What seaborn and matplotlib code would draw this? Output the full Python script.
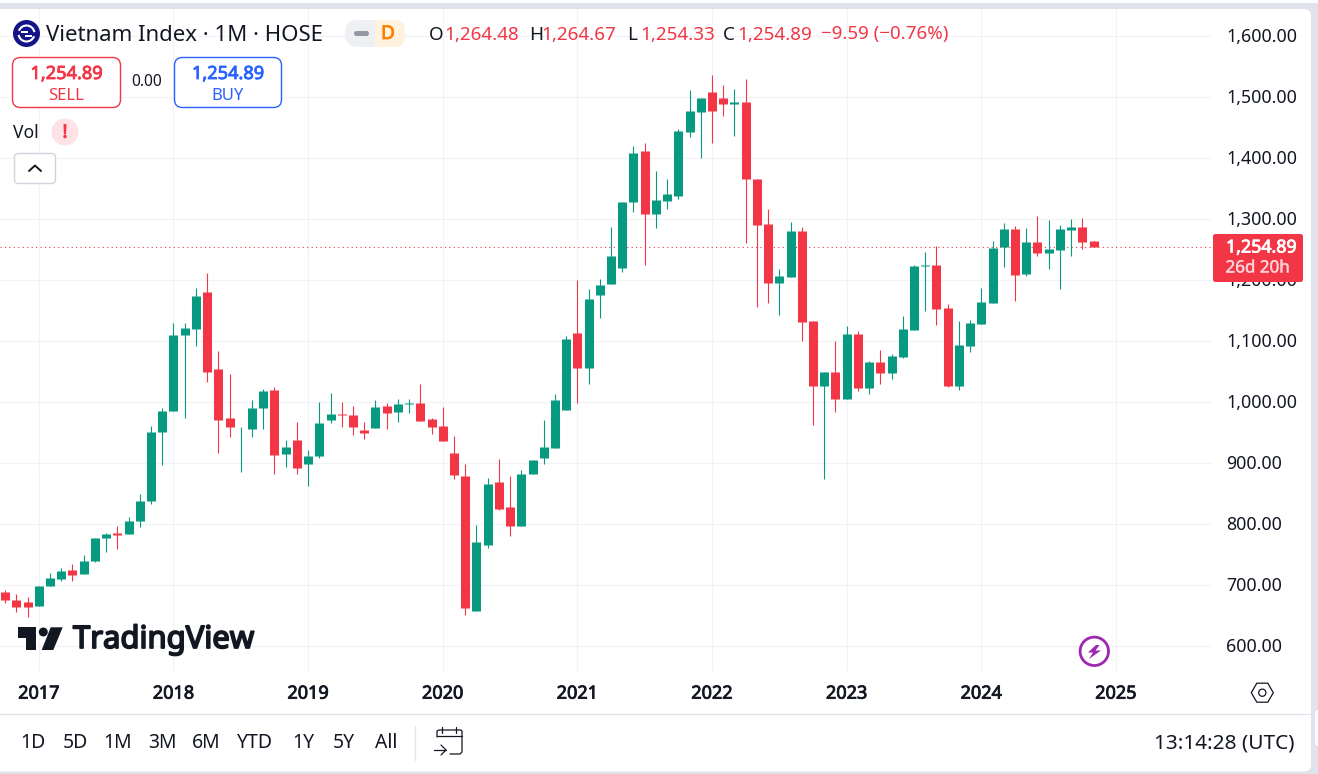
import numpy as np
import pandas as pd
import seaborn as sns
import matplotlib
matplotlib.use("Agg")
import matplotlib.pyplot as plt
import matplotlib.patheffects as pe
from matplotlib.transforms import ScaledTranslation
from matplotlib.patches import FancyBboxPatch, Circle, Polygon, Rectangle, Arc

# ---------- data (monthly candles, Oct 2016 .. Nov 2024) ----------
opens = [689.1,676,672.7,666.1,698.9,710.4,725.1,718.6,739.9,777.6,785.8,784.2,805.5,838.3,951.4,985.8,
         1110.4,1120.2,1180.9,1054.6,974.3,957.4,956.3,990.7,1020.2,915.3,938.3,898.9,912,971,980.9,979.2,
         954.6,957.9,994,984.2,997.3,998.9,972.7,961.2,916.9,879.2,657.9,766.1,869.4,828.4,797.3,882.5,
         908.7,925.1,987.4,1113.7,1056.3,1176.5,1194.5,1220.8,1329,1412.6,1309.3,1330.6,1338.8,1443.7,1476.5,
         1509.3,1499.5,1489.6,1492.9,1366.7,1292.9,1196.2,1206,1281.4,1133.3,1026.8,1049.7,1005.5,1112,1023.5,
         1066.1,1048.1,1074.3,1118.6,1223.5,1225.1,1154.6,1026.8,1092.3,1128.4,1162.8,1254.6,1284.2,1210.4,
         1262.8,1244.8,1249.7,1282.5,1287.4,1264.48]
closes = [676,664.5,664.5,698.9,712,723.5,716.9,739.9,777.6,784.2,782.5,805.5,838.3,951.4,985.8,1110.4,
          1121.9,1174.3,1049.7,971,959.6,958.5,990.7,1018.6,913.7,926.8,892.3,912,966.1,980.9,979.2,959.6,
          949.7,992.3,982.5,997.3,998.9,969.4,959.6,936.6,880.9,662.8,771,866.1,825.1,797.3,882.5,905.5,
          926.8,1003.8,1103.8,1056.3,1169.4,1192.9,1240.4,1329,1409.3,1309.3,1332.2,1342,1445.4,1478.1,1499.5,
          1478.1,1489.6,1492.9,1366.7,1291.3,1196.2,1207.7,1281.4,1132.2,1026.8,1049.7,1005.5,1112,1023.5,1066.1,
          1048.1,1076,1120.2,1223.5,1225.1,1153,1026.8,1094,1130,1164.5,1253,1284.2,1208.7,1262.8,
          1244.8,1251.4,1284.2,1287.4,1262.8,1254.89]
highs = [692.3,685.8,680.9,698.9,720.2,728.4,735,749.7,777.6,785.8,797.3,812,849.7,961.2,990.7,1130,
         1130,1187.4,1212,1084.2,1046.4,959.6,1003.8,1021.9,1025.1,938.3,967.8,921.9,1000.5,1015.3,1000.5,994,
         967.8,1003.8,998.9,1005.5,1005.5,1030,974.3,992.3,944.8,898.9,798.9,876,907.1,879.2,889,905.5,
         971,1013.7,1108.7,1200.5,1185.8,1202.7,1288,1329,1420.8,1425.7,1379.8,1366.7,1448.6,1512.6,1499.5,
         1537.2,1520.8,1514.2,1530.6,1366.7,1317.5,1219.1,1296.2,1288,1133.3,1049.7,1100.5,1125.1,1116.9,1067.8,
         1085.8,1079.2,1141.5,1225.1,1246.4,1256.3,1161.2,1133.3,1135,1187.4,1264.5,1294,1289.1,1285.8,
         1305.5,1298.9,1290.7,1300.5,1302.2,1264.67]
lows = [671.6,656.3,648.1,666.1,698.9,707.1,707.1,718.6,738.3,754.6,759.6,784.2,795.6,833.3,897.3,985.8,
        974.3,1092.3,1033.3,916.9,943.2,885.8,943.2,956.3,882.5,894,882.5,862.8,908.7,966.1,959.6,946.4,
        939.9,957.9,956.3,967.8,982.5,969.4,948.1,936.6,874.3,651.4,657.9,761.2,823.5,780.9,797.3,882.5,
        898.9,925.1,987.4,998.9,1030,1138.8,1194.5,1214.2,1312.6,1225.7,1286.3,1317.5,1333.9,1435.5,1401.1,
        1425.7,1469.9,1437.2,1261.7,1156.8,1163.4,1143.7,1206,1101.1,962.8,874.3,984.2,1005.5,1018.6,1013.7,
        1030.1,1038.3,1072.7,1118.6,1149.7,1126.8,1025.1,1020.2,1082.5,1128.4,1162.8,1221.9,1166.1,1207.1,
        1239.9,1218.6,1185.8,1239.9,1251.4,1254.33]
year_labels = ["2017","2018","2019","2020","2021","2022","2023","2024","2025"]
price_ticks = [600,700,800,900,1000,1100,1200,1300,1400,1500,1600]
last_price = 1254.89
range_buttons = ["1D","5D","1M","3M","6M","YTD","1Y","5Y","All"]

GREEN, RED, BLUE = "#089981", "#f23645", "#2962ff"
INK, FRAME, GRID = "#131722", "#e0e3eb", "#f2f3f6"
FONT = "Noto Sans"

W, H = 1318, 774
sns.set_theme(style="white", rc={"axes.grid": False})
plt.rcParams["font.family"] = [FONT, "DejaVu Sans"]
fig = plt.figure(figsize=(W/100, H/100), dpi=100, facecolor="white")

def rect(x0, y0, x1, y1):
    return [x0/W, 1-y1/H, (x1-x0)/W, (y1-y0)/H]

def overlay(z):
    a = fig.add_axes([0, 0, 1, 1], zorder=z)
    a.set_xlim(0, W); a.set_ylim(H, 0); a.axis("off"); a.patch.set_alpha(0)
    return a

def embolden(t, color, amount=0.55):
    t.set_path_effects([pe.withStroke(linewidth=amount, foreground=color)])
    return t

# ---------- frame ----------
bg = overlay(0)
bg.add_patch(Rectangle((0, 3), W, H, fc=FRAME, ec="none"))
bg.add_patch(FancyBboxPatch((-20, 9), 1331, 762.5, boxstyle="round,pad=0,rounding_size=7", fc="white", ec="none"))
bg.add_patch(FancyBboxPatch((1315, 710), 10, 36, boxstyle="round,pad=0,rounding_size=3", fc="white", ec="none"))

# ---------- candles ----------
ax = fig.add_axes(rect(0, 9, 1212, 671), zorder=1)
ax.patch.set_alpha(0)
n = len(opens)
month = np.arange(n)
df = pd.DataFrame({"month": month, "open": opens, "close": closes, "high": highs, "low": lows})
df["dir"] = np.where(df["close"] >= df["open"], "up", "down")
wicks = df.melt(id_vars=["month", "dir"], value_vars=["high", "low"], value_name="price")
bodies = df.melt(id_vars=["month", "dir"], value_vars=["open", "close"], value_name="price")
pal = {"up": GREEN, "down": RED}
sns.lineplot(data=wicks, x="month", y="price", hue="dir", units="month", estimator=None, palette=pal,
             linewidth=0.8, legend=False, ax=ax, sort=False, zorder=3, solid_capstyle="butt")
sns.lineplot(data=bodies, x="month", y="price", hue="dir", units="month", estimator=None, palette=pal,
             linewidth=6.5, legend=False, ax=ax, sort=False, zorder=3, solid_capstyle="butt")

ax.set_xlim(-0.46, 107.56)
ax.set_ylim(559.5, 1644.8)
year_pos = [3 + 12*i for i in range(len(year_labels))]
ax.set_xticks(year_pos, year_labels)
ax.set_yticks(price_ticks, [f"{p:,.2f}" for p in price_ticks])
ax.yaxis.tick_right()
ax.grid(True, color=GRID, linewidth=0.85)
ax.set_axisbelow(True)
ax.set_xlabel(""); ax.set_ylabel("")
ax.tick_params(axis="y", length=0, pad=10.3, labelsize=12.8, labelcolor=INK)
ax.tick_params(axis="x", length=0, pad=9.8, labelsize=13.0, labelcolor=INK)
for t in ax.get_xticklabels():
    embolden(t, INK, 0.6)
nudge = ScaledTranslation(0, 1.0/100, fig.dpi_scale_trans)
for t in ax.get_yticklabels():
    t.set_transform(t.get_transform() + nudge)
sns.despine(ax=ax, left=True, bottom=True, right=True, top=True)
ax.axhline(last_price, color=RED, linewidth=0.8, dashes=(1, 3), zorder=2)

# ---------- chrome ----------
ui = overlay(3)
def txt(x, y, s, px, color=INK, ha="left", bold=0, **k):
    t = ui.text(x, y, s, fontsize=px*0.72, color=color, ha=ha, va="center", **k)
    if bold:
        embolden(t, color, bold)
    return t
def box(x0, y0, x1, y1, r, fc="white", ec="none", lw=1.0):
    p = FancyBboxPatch((x0, y0), x1-x0, y1-y0, boxstyle=f"round,pad=0,rounding_size={r}", fc=fc, ec=ec, lw=lw)
    ui.add_patch(p); return p

# title row
ui.add_patch(Circle((26.5, 33.5), 13.5, fc="#14148a", ec="none"))
ui.add_patch(Arc((26.5, 33.5), 16, 16, theta1=20, theta2=170, ec="white", lw=1.5))
ui.add_patch(Arc((26.5, 33.5), 16, 16, theta1=200, theta2=350, ec="white", lw=1.5))
ui.add_patch(Rectangle((21, 31), 7, 1.8, fc="white", ec="none"))
ui.add_patch(Rectangle((25, 35), 7, 1.8, fc="white", ec="none"))
txt(46, 35.5, "Vietnam Index · 1M · HOSE", 22.2)
box(345, 20, 405, 47, 13, fc="#eef0f3")
ui.add_patch(Rectangle((375, 20), 18, 27, fc="#fff3e0", ec="none"))
box(385, 20, 405, 47, 10, fc="#fff3e0")
box(354, 31, 369, 36, 2.5, fc="#9598a1")
txt(388, 34, "D", 19, color="#ff7f00", ha="center", bold=0.6)
for x, s, c in [(429, "O", INK), (444, "1,264.48", RED), (529, "H", INK), (541, "1,264.67", RED),
                (627, "L", INK), (640, "1,254.33", RED), (723, "C", INK), (737, "1,254.89", RED),
                (821, "−9.59 (−0.76%)", RED)]:
    txt(x, 34.5, s, 18.9 if s[0] != "−" else 18.7, color=c)

# sell / buy
box(12.5, 57.5, 120.5, 107.5, 8, ec=RED)
txt(66.5, 74, "1,254.89", 18.2, color=RED, ha="center", bold=0.6)
txt(66.5, 95.5, "SELL", 16.6, color=RED, ha="center")
txt(147, 82, "0.00", 15.5, ha="center")
box(174.5, 57.5, 281.5, 107.5, 8, ec=BLUE)
txt(228, 74, "1,254.89", 18.2, color=BLUE, ha="center", bold=0.6)
txt(228, 95.5, "BUY", 16.6, color=BLUE, ha="center")

# vol
txt(13, 133.5, "Vol", 17.5)
ui.add_patch(Circle((65, 132), 13.5, fc="#fde3e6", ec="none"))
txt(65, 132.5, "!", 18, color=RED, ha="center", bold=0.8)
box(14.5, 153.5, 55.5, 183.5, 4, ec="#d1d4dc")
ui.plot([29, 35, 41], [171, 165.5, 171], color=INK, lw=1.4, solid_capstyle="round")

# TradingView logo
ui.add_patch(Polygon([(18, 627.3), (36, 627.3), (36, 650), (26, 650), (26, 638), (18, 638)], fc=INK, ec="none"))
ui.add_patch(Circle((43.3, 632), 4.5, fc=INK, ec="none"))
ui.add_patch(Polygon([(50.7, 627.3), (62.7, 627.3), (53.3, 650), (41.7, 650)], fc=INK, ec="none"))
txt(73, 640, "TradingView", 31, bold=1.3)

# lightning
ui.add_patch(Circle((1094.3, 651.3), 14.2, fc="white", ec="#9c27b0", lw=2))
ui.add_patch(Polygon([(1096, 645), (1088, 652.5), (1093, 652.5), (1089, 659), (1101, 650.5), (1095.5, 650.5), (1099.5, 645)],
                     fc="#9c27b0", ec="none"))

# price tag
box(1213, 234, 1303, 282, 2.5, fc=RED)
txt(1296.5, 247.5, "1,254.89", 17.8, color="white", ha="right", bold=0.6)
txt(1225.5, 268.5, "26d 20h", 17, color="#fcd5d9", bold=0.3)

# gear
hx, hy = 1262.3, 692.7
ui.add_patch(Polygon([(hx-11, hy), (hx-5.5, hy-9.5), (hx+5.5, hy-9.5), (hx+11, hy), (hx+5.5, hy+9.5), (hx-5.5, hy+9.5)],
                     fc="white", ec=INK, lw=0.9))
ui.add_patch(Circle((hx, hy), 3.6, fc="white", ec=INK, lw=0.9))

# bottom bar
ui.plot([0, 1311], [713.5, 713.5], color=FRAME, lw=0.9)
for x, s in zip([33, 75, 118, 162, 206, 255, 303, 344, 386], range_buttons):
    txt(x, 743.5, s, 19.4, ha="center")
ui.plot([414.5, 414.5], [726, 760], color=FRAME, lw=0.9)
ui.plot([437, 437, 439, 461, 462, 462, 460, 450], [737, 731, 730, 730, 731, 752, 754, 754], color=INK, lw=0.9)
ui.plot([437, 462], [736, 736], color=INK, lw=0.9)
ui.plot([442, 442], [727, 733], color=INK, lw=0.9)
ui.plot([456, 456], [727, 733], color=INK, lw=0.9)
ui.plot([434, 446], [750, 750], color=INK, lw=0.9)
ui.plot([441, 446, 441], [745, 750, 755], color=INK, lw=0.9)
txt(1295, 744, "13:14:28 (UTC)", 20.8, ha="right")

ui.set_xlim(0, W); ui.set_ylim(H, 0)
fig.savefig("out.png", dpi=100, facecolor="white")
